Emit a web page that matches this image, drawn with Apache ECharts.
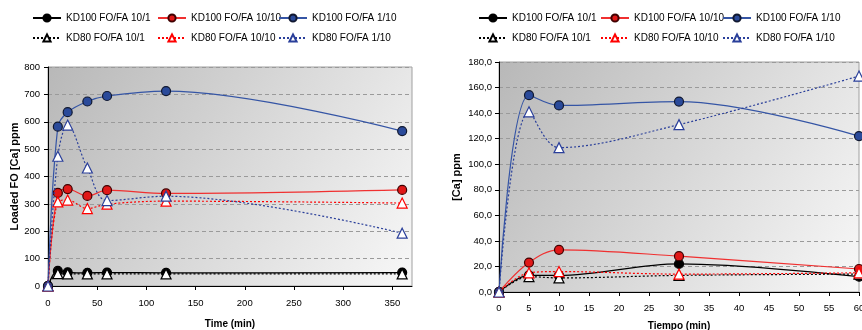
<!DOCTYPE html>
<html>
<head>
<meta charset="utf-8">
<script src="https://cdn.jsdelivr.net/npm/echarts@6/dist/echarts.min.js"></script>
<style>
html,body{margin:0;padding:0;background:#fff;}
#c{width:862px;height:330px;}
</style>
</head>
<body>
<div id="c"></div>
<script>
// Series names
var names = ['KD100 FO/FA 10/1','KD100 FO/FA 10/10','KD100 FO/FA 1/10','KD80 FO/FA 10/1','KD80 FO/FA 10/10','KD80 FO/FA 1/10'];

// Left chart: Loaded FO [Ca] ppm vs Time (min)
var leftTimes = [0, 10, 20, 40, 60, 120, 360];
var leftKD100_10_1  = [0, 55, 50, 48, 49, 48, 49];
var leftKD100_10_10 = [0, 340, 354, 329, 350, 338, 351];
var leftKD100_1_10  = [0, 582, 635, 674, 694, 712, 566];
var leftKD80_10_1   = [0, 45, 44, 44, 44, 44, 44];
var leftKD80_10_10  = [0, 307, 314, 283, 299, 310, 303];
var leftKD80_1_10   = [0, 474, 588, 431, 312, 328, 193];

// Right chart: [Ca] ppm vs Tiempo (min)
var rightTimes = [0, 5, 10, 30, 60];
var rightKD100_10_1  = [0, 13, 13, 22, 12];
var rightKD100_10_10 = [0, 23, 33, 28, 18];
var rightKD100_1_10  = [0, 154, 146, 149, 122];
var rightKD80_10_1   = [0, 12, 11, 13, 14];
var rightKD80_10_10  = [0, 15, 16, 14, 15];
var rightKD80_1_10   = [0, 141, 113, 131, 169];

var FONT = 'Liberation Sans, Arial, sans-serif';
var chart = echarts.init(document.getElementById('c'));

function pairs(xs, ys){ return xs.map(function(x,i){ return [x, ys[i]]; }); }

var styles = [
  {line:'#000000', fill:'#000000', border:'#000000', sym:'circle', dash:'solid'},
  {line:'#f03030', fill:'#e01818', border:'#400000', sym:'circle', dash:'solid'},
  {line:'#3555a5', fill:'#2a4a9a', border:'#101830', sym:'circle', dash:'solid'},
  {line:'#000000', fill:'#ffffff', border:'#000000', sym:'triangle', dash:[2,2]},
  {line:'#ff0000', fill:'#ffffff', border:'#ff0000', sym:'triangle', dash:[2,2]},
  {line:'#2a3f9a', fill:'#ffffff', border:'#2a3f9a', sym:'triangle', dash:[2,2]}
];

function mkSeries(idx, xs, ys, gi){
  var s = styles[idx];
  return {
    name: names[idx], type:'line', xAxisIndex: gi, yAxisIndex: gi,
    data: pairs(xs, ys), smooth: 0.35,
    symbol: s.sym, symbolSize: s.sym==='circle' ? 9 : 10,
    lineStyle: {color: s.line, width: 1.2, type: s.dash},
    itemStyle: {color: s.fill, borderColor: s.border, borderWidth: 1.2},
    emphasis: {disabled: true}, animation: false, z: 2 + idx
  };
}

var leftData = [leftKD100_10_1, leftKD100_10_10, leftKD100_1_10, leftKD80_10_1, leftKD80_10_10, leftKD80_1_10];
var rightData = [rightKD100_10_1, rightKD100_10_10, rightKD100_1_10, rightKD80_10_1, rightKD80_10_10, rightKD80_1_10];

var series = [];
leftData.forEach(function(d,i){ series.push(mkSeries(i, leftTimes, d, 0)); });
rightData.forEach(function(d,i){ series.push(mkSeries(i, rightTimes, d, 1)); });

var bg = new echarts.graphic.LinearGradient(0,0,1,1,[{offset:0,color:'#b8b8b8'},{offset:1,color:'#f8f8f8'}]);

var legends = [];
var leftCols = [32, 157, 278];
var rightCols = [478, 600, 722];
var rows = [13, 33];
[leftCols, rightCols].forEach(function(cols){
  for (var r=0;r<2;r++){
    for (var c=0;c<3;c++){
      legends.push({
        data:[names[r*3+c]], left: cols[c], top: rows[r],
        itemWidth: 28, itemHeight: 9, itemGap: 0, padding: 0,
        selectedMode: false,
        textStyle:{fontSize:10, color:'#000', fontFamily: FONT}
      });
    }
  }
});

function axisCommon(){
  return {
    axisLine:{show:true, onZero:false, lineStyle:{color:'#000', width:1}},
    axisTick:{show:true, inside:false, length:4, lineStyle:{color:'#000'}},
    axisLabel:{fontSize:9.5, color:'#000', fontFamily: FONT, margin:8},
    nameTextStyle:{fontSize:10, fontWeight:'bold', color:'#000', fontFamily: FONT}
  };
}

var xa0 = Object.assign(axisCommon(), {type:'value', gridIndex:0, min:0, max:370, interval:50,
  name:'Time (min)', nameLocation:'middle', nameGap:33, splitLine:{show:false}});
xa0.axisLabel.showMaxLabel = false;
xa0.axisLabel.margin = 12;
var xa1 = Object.assign(axisCommon(), {type:'value', gridIndex:1, min:0, max:60, interval:5,
  name:'Tiempo (min)', nameLocation:'middle', nameGap:29, splitLine:{show:false}});
xa1.axisLabel.margin = 11;
var ya0 = Object.assign(axisCommon(), {type:'value', gridIndex:0, min:0, max:800, interval:100,
  name:'Loaded FO [Ca] ppm', nameLocation:'middle', nameGap:28,
  splitLine:{show:true, lineStyle:{color:'#9a9a9a', type:[4,3], width:1}}});
ya0.nameTextStyle.fontSize = 11;
var ya1 = Object.assign(axisCommon(), {type:'value', gridIndex:1, min:0, max:180, interval:20,
  name:'[Ca] ppm', nameLocation:'middle', nameGap:37,
  splitLine:{show:true, lineStyle:{color:'#9a9a9a', type:[4,3], width:1}}});
ya1.nameTextStyle.fontSize = 11;
ya1.axisLabel.formatter = function(v){ return v.toFixed(1).replace('.', ','); };
ya1.axisLabel.margin = 7;

chart.setOption({
  animation:false,
  legend: legends,
  grid:[
    {left:48, top:67, width:364, height:219, show:true, backgroundColor:bg, borderColor:'#a0a0a0', borderWidth:1, outerBoundsMode:'none', containLabel:false},
    {left:499, top:62, width:360, height:230, show:true, backgroundColor:bg, borderColor:'#a0a0a0', borderWidth:1, outerBoundsMode:'none', containLabel:false}
  ],
  xAxis:[xa0, xa1],
  yAxis:[ya0, ya1],
  series: series
});
</script>
</body>
</html>
